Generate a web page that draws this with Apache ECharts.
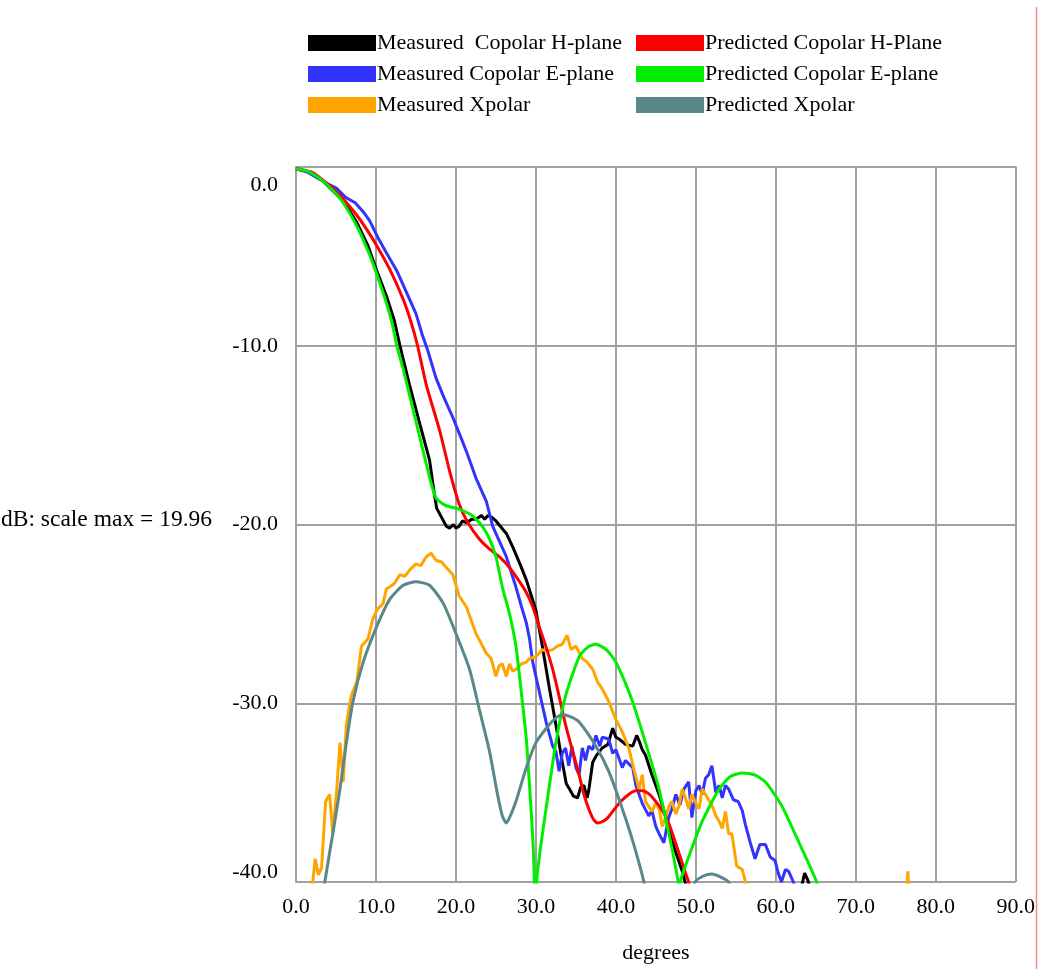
<!DOCTYPE html>
<html>
<head>
<meta charset="utf-8">
<script src="https://cdn.jsdelivr.net/npm/echarts@6/dist/echarts.min.js"></script>
<style>
  html, body { margin: 0; padding: 0; background: #fff; }
  #chart { width: 1038px; height: 969px; }
</style>
</head>
<body>
<div id="chart"></div>
<script>
// data: [degrees, dB]
var measuredH = [[0,-0.1],[2,-0.3],[3.4,-0.8],[5.9,-1.9],[7.6,-3.1],[9.0,-4.4],[10.1,-5.8],[11.3,-7.2],[12.3,-8.6],[13.0,-10.0],[14.2,-12.2],[15.5,-14.4],[16.7,-16.4],[17.3,-18.3],[17.6,-19.1],[18.2,-19.6],[18.8,-20.1],[19.2,-20.2],[19.7,-20.0],[20.0,-20.2],[20.4,-20.1],[20.8,-19.8],[21.3,-19.9],[22.0,-19.7],[22.5,-19.7],[23.2,-19.5],[23.6,-19.7],[24.0,-19.5],[24.5,-19.6],[25.0,-19.8],[26.3,-20.5],[27.1,-21.25],[28.0,-22.2],[28.8,-23.1],[30.0,-24.8],[30.8,-26.8],[31.7,-29.2],[32.5,-31.2],[33.3,-33.3],[33.8,-34.5],[34.2,-34.8],[34.7,-35.2],[35.2,-35.3],[35.6,-34.7],[36.0,-34.6],[36.4,-35.3],[36.6,-34.9],[37.1,-33.3],[37.6,-32.9],[38.3,-32.5],[39.0,-32.3],[39.6,-31.4],[40.0,-31.9],[40.4,-32.0],[41.2,-32.3],[42.1,-32.4],[42.6,-31.8],[42.9,-32.1],[43.3,-32.6],[43.7,-32.9],[44.5,-34.0],[45.4,-35.1],[46.2,-36.3],[47.0,-37.7],[48.3,-39.4],[49.0,-40.6],[50,-43],[62.5,-43],[63.2,-40.3],[63.6,-39.5],[64.0,-39.9],[64.4,-40.5],[65,-43]];

var measuredE = [[0,-0.1],[1.5,-0.3],[3.0,-0.7],[4.2,-1.0],[5.1,-1.2],[6.2,-1.7],[7.4,-2.0],[8.4,-2.5],[9.2,-3.0],[10.3,-4.0],[11.3,-4.8],[12.6,-5.8],[13.8,-7.0],[15.0,-8.2],[15.8,-9.4],[16.5,-10.3],[17.5,-11.8],[18.5,-12.9],[19.6,-14.0],[20.5,-15.0],[21.3,-15.9],[22.5,-17.4],[23.8,-18.7],[24.6,-20.1],[25.3,-20.8],[26.3,-21.8],[27.5,-23.5],[28.2,-24.6],[28.8,-25.5],[29.2,-26.4],[29.6,-27.7],[30.4,-29.3],[31.3,-31.1],[32.1,-32.4],[32.5,-32.7],[32.9,-33.8],[33.3,-32.8],[33.7,-32.5],[34.1,-33.5],[34.5,-32.4],[35.0,-33.6],[35.4,-34.0],[35.8,-32.5],[36.2,-33.2],[36.6,-32.4],[37.1,-32.6],[37.5,-31.8],[38.0,-32.4],[38.3,-31.9],[39.1,-32.0],[39.6,-32.8],[40.0,-32.6],[40.8,-33.6],[41.2,-33.2],[42.1,-33.6],[42.5,-34.6],[42.9,-35.1],[43.3,-35.6],[44.1,-36.3],[44.5,-36.0],[45.0,-36.9],[45.4,-37.3],[46.0,-37.8],[46.6,-36.4],[47.0,-35.9],[47.5,-35.1],[48.0,-35.7],[48.5,-34.8],[49.1,-34.4],[49.5,-36.4],[50.0,-34.9],[50.4,-34.6],[50.8,-35.1],[51.2,-34.2],[51.6,-34.0],[52.0,-33.5],[52.5,-35.0],[52.9,-34.6],[53.3,-35.3],[53.7,-34.6],[54.1,-34.8],[54.7,-35.4],[55.3,-35.5],[55.8,-36.0],[56.2,-36.8],[56.8,-37.8],[57.4,-38.7],[58.0,-37.9],[58.7,-37.9],[59.3,-38.6],[59.9,-38.8],[60.3,-39.5],[60.7,-40.0],[61.2,-39.3],[61.6,-39.4],[62.2,-40.0],[62.6,-41]];

var measuredX = [[0,-45],[1.9,-42],[2.1,-40],[2.4,-38.7],[2.8,-39.6],[3.2,-39.2],[3.7,-35.5],[4.2,-35.1],[4.6,-37.3],[5.1,-34.8],[5.5,-32.2],[5.9,-34.4],[6.3,-31.2],[6.9,-29.6],[7.6,-28.8],[8.2,-26.8],[9.0,-26.4],[9.6,-25.3],[10.1,-24.8],[10.9,-24.4],[11.3,-23.6],[11.7,-23.5],[12.3,-23.3],[13.0,-22.8],[13.6,-22.9],[14.2,-22.55],[15.0,-22.2],[15.6,-22.3],[16.3,-21.8],[16.9,-21.6],[17.5,-22.0],[18.2,-22.1],[18.8,-22.4],[19.6,-22.8],[20.0,-23.4],[20.4,-24.0],[21.3,-24.6],[22.5,-26.1],[23.8,-27.2],[24.4,-27.5],[25.0,-28.5],[25.4,-27.9],[25.8,-27.8],[26.3,-28.5],[26.7,-27.8],[27.1,-28.2],[27.5,-28.1],[28.2,-27.8],[28.8,-27.7],[29.2,-27.5],[30.0,-27.4],[30.8,-27.0],[31.3,-27.1],[32.1,-27.0],[32.7,-26.8],[33.3,-26.7],[33.9,-26.2],[34.4,-27.0],[35.0,-26.8],[35.8,-27.5],[36.4,-27.7],[37.1,-28.1],[37.7,-28.8],[38.3,-29.2],[39.1,-29.9],[40.0,-30.9],[40.8,-31.6],[41.6,-32.5],[42.3,-33.8],[42.9,-34.8],[43.3,-34.0],[43.7,-35.5],[44.5,-36.05],[45.0,-35.6],[45.4,-35.9],[45.8,-36.9],[46.2,-36.4],[46.6,-35.8],[47.0,-35.5],[47.5,-36.2],[47.9,-35.7],[48.3,-34.8],[48.7,-35.3],[49.1,-35.9],[49.5,-35.1],[50.0,-35.6],[50.4,-35.9],[50.8,-34.8],[51.2,-35.1],[52.0,-35.7],[52.5,-36.3],[52.9,-36.6],[53.3,-37.0],[53.7,-36.05],[54.1,-37.3],[54.5,-37.3],[55.1,-39.1],[55.8,-39.3],[56.2,-40],[56.6,-42],[76.2,-42],[76.5,-39.4],[76.8,-42]];

var predictedH = [[0,-0.1],[2,-0.3],[3.4,-0.75],[5.5,-1.6],[7.6,-2.7],[9.0,-3.6],[10.1,-4.4],[11.7,-5.7],[13.4,-7.4],[14.4,-8.7],[15.2,-10.0],[16.3,-12.2],[18.0,-14.8],[19.2,-17.0],[20.4,-18.85],[21.5,-19.9],[22.9,-20.8],[24.0,-21.3],[25.4,-21.8],[26.3,-22.2],[27.5,-22.9],[28.8,-23.8],[29.6,-24.6],[30.4,-25.7],[31.3,-26.9],[32.1,-28.1],[32.9,-29.6],[33.7,-31.2],[34.6,-32.7],[35.4,-34.0],[36.0,-35.1],[36.6,-35.9],[37.2,-36.5],[37.7,-36.7],[38.4,-36.6],[39.0,-36.4],[39.6,-36.05],[40.6,-35.5],[41.6,-35.1],[42.5,-34.9],[43.3,-34.9],[44.2,-35.1],[45.0,-35.5],[45.8,-36.0],[46.6,-36.7],[47.3,-37.6],[47.9,-38.4],[48.7,-39.5],[49.1,-40],[49.5,-41]];

var predictedE = [[0,-0.1],[1.5,-0.25],[3.4,-0.8],[5.0,-1.5],[5.9,-2.0],[7.6,-3.3],[9.2,-4.9],[10.1,-6.0],[11.3,-7.6],[12.1,-8.9],[12.6,-10.0],[13.4,-11.3],[14.6,-13.5],[15.9,-15.9],[16.9,-17.7],[17.5,-18.5],[18.2,-18.8],[18.8,-18.95],[20.4,-19.15],[21.7,-19.4],[22.5,-19.7],[23.3,-20.1],[24.2,-20.8],[25.0,-21.8],[25.8,-23.5],[26.7,-25.0],[27.5,-26.8],[28.3,-29.9],[28.8,-32.0],[29.2,-34.6],[29.6,-37.5],[29.8,-40],[29.95,-55],[30.1,-40],[30.6,-38.0],[31.3,-35.8],[32.5,-32.2],[33.7,-29.6],[35.4,-27.4],[36.5,-26.85],[37.5,-26.7],[38.8,-27.0],[40,-27.7],[42,-29.8],[43.7,-32.2],[45.4,-34.8],[47.0,-38.1],[47.6,-39.5],[47.9,-40.2],[48.3,-39.6],[49.1,-38.6],[50.8,-36.6],[52.9,-34.8],[54.3,-34.1],[55.8,-33.9],[57.3,-34.0],[58.7,-34.4],[60.7,-35.7],[62.8,-37.7],[65.1,-40],[65.5,-41]];

var predictedX = [[0,-50],[3.0,-42],[3.6,-40],[4.6,-37.3],[5.5,-34.8],[6.3,-32.2],[7.1,-29.95],[8.4,-27.7],[10.1,-25.7],[11.7,-24.2],[13.4,-23.4],[15.0,-23.2],[16.7,-23.4],[18.4,-24.4],[20.0,-26.1],[21.7,-28.1],[22.9,-30.3],[24.2,-32.7],[25.2,-35.1],[25.8,-36.3],[26.3,-36.7],[26.8,-36.3],[27.5,-35.5],[28.8,-33.6],[30.0,-32.2],[31.3,-31.4],[32.3,-30.9],[33.3,-30.65],[34.3,-30.75],[35.4,-31.05],[37.5,-32.4],[39.1,-33.8],[40.8,-35.9],[42.1,-37.7],[43.5,-40],[44.2,-42],[46.5,-50],[48.8,-42],[49.9,-40],[51.0,-39.65],[52.0,-39.55],[53.0,-39.7],[54.1,-40],[55,-42],[58,-50]];

var seriesNames = ['Measured  Copolar H-plane', 'Measured Copolar E-plane', 'Measured Xpolar',
                   'Predicted Copolar H-Plane', 'Predicted Copolar E-plane', 'Predicted Xpolar'];
var seriesData = [measuredH, measuredE, measuredX, predictedH, predictedE, predictedX];
var seriesColors = ['#000000', '#3333ff', '#ffa500', '#ff0000', '#00ee00', '#5a8787'];

var FONT = '"Liberation Serif", "Times New Roman", serif';

var dom = document.getElementById('chart');
var myChart = echarts.init(dom);

var series = seriesNames.map(function (name, i) {
    return {
        name: name,
        type: 'line',
        data: seriesData[i],
        symbol: 'none',
        smooth: i >= 3 ? 0.2 : false,
        clip: true,
        color: seriesColors[i],
        lineStyle: { width: 3, color: seriesColors[i] },
        itemStyle: { color: seriesColors[i] },
        animation: false
    };
});

function legendBlock(left, names) {
    return {
        orient: 'vertical',
        left: left,
        top: 32,
        padding: 0,
        itemGap: 9,
        itemWidth: 68,
        itemHeight: 16,
        icon: 'rect',
        data: names,
        selectedMode: false,
        textStyle: { fontFamily: FONT, fontSize: 22, color: '#000', padding: [0, 0, 0, -4] }
    };
}

var option = {
    backgroundColor: '#fff',
    animation: false,
    legend: [
        legendBlock(308, seriesNames.slice(0, 3)),
        legendBlock(636, seriesNames.slice(3))
    ],
    grid: { left: 296, right: 19, top: 167, bottom: 81, containLabel: false },
    xAxis: {
        type: 'value',
        min: 0, max: 90, interval: 10,
        name: 'degrees',
        nameLocation: 'middle',
        nameGap: 60,
        nameTextStyle: { fontFamily: FONT, fontSize: 22, color: '#000' },
        axisLine: { show: true, lineStyle: { color: '#a0a0a0', width: 2 } },
        axisTick: { show: false },
        splitLine: { show: true, lineStyle: { color: '#a0a0a0', width: 2 } },
        axisLabel: {
            margin: 14,
            fontFamily: FONT, fontSize: 22, color: '#000',
            formatter: function (v) { return v.toFixed(1); }
        }
    },
    yAxis: {
        type: 'value',
        min: -40, max: 0, interval: 10,
        axisLine: { show: true, lineStyle: { color: '#a0a0a0', width: 2 } },
        axisTick: { show: false },
        splitLine: { show: true, lineStyle: { color: '#a0a0a0', width: 2 } },
        axisLabel: {
            margin: 18,
            fontFamily: FONT, fontSize: 22, color: '#000',
            formatter: function (v) {
                var s = v.toFixed(1);
                if (v === 0) return '{top|' + s + '}';
                if (v === -40) return '{bot|' + s + '}';
                return s;
            },
            rich: {
                top: { fontFamily: FONT, fontSize: 22, color: '#000', padding: [36, 0, 0, 0] },
                bot: { fontFamily: FONT, fontSize: 22, color: '#000', padding: [0, 0, 20, 0] }
            }
        }
    },
    graphic: [
        {
            type: 'text',
            left: 1,
            top: 508,
            style: { text: 'dB: scale max = 19.96', font: '23.5px "Liberation Serif"', fill: '#000' }
        },
        {
            type: 'line',
            shape: { x1: 1036.5, y1: 7, x2: 1036.5, y2: 969 },
            style: { stroke: '#f08c8c', lineWidth: 1.5 }
        }
    ],
    series: series
};

myChart.setOption(option);
</script>
</body>
</html>
